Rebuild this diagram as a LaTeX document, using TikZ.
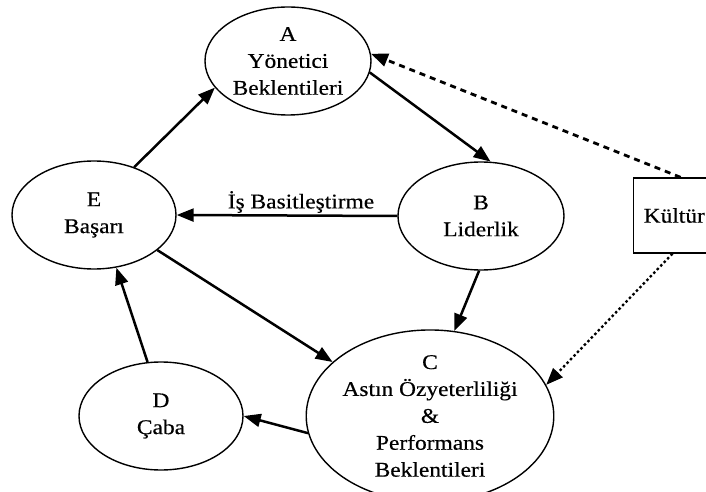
\documentclass[tikz,border=0pt]{standalone}
\usepackage{fontspec}
\setmainfont{Liberation Serif}[FakeStretch=1.12,FakeBold=0.4]
\usetikzlibrary{arrows.meta,shapes.geometric}
\tikzset{
  oval/.style={ellipse, draw, line width=1.4bp, inner sep=0pt, align=center,
    font=\fontsize{21}{27}\selectfont},
  conn/.style={line width=2.5bp, -{Triangle[length=17bp,width=13bp]}},
  dashconn/.style={line width=2.8bp, dash pattern=on 6bp off 5bp,
    -{Triangle[length=17bp,width=13bp]}},
  dotconn/.style={line width=2.3bp, dash pattern=on 2.5bp off 2.5bp,
    -{Triangle[length=17bp,width=13bp]}},
  lbl/.style={font=\fontsize{21}{27}\selectfont, inner sep=0pt},
}
\begin{document}
\begin{tikzpicture}[x=1bp,y=-1bp]
\useasboundingbox (0,0) rectangle (706,492);
\fill[white] (0,0) rectangle (706,492);
\clip (0,0) rectangle (706,492);

\node[oval, minimum width=166bp, minimum height=108bp] (A) at (288,61) {A\\Yönetici\\Beklentileri};
\node[oval, minimum width=166bp, minimum height=108bp] (B) at (481,216) {B\\Liderlik};
\node[oval, minimum width=164bp, minimum height=108bp] (E) at (94,215) {E\\Başarı};
\node[oval, minimum width=164bp, minimum height=108bp] (D) at (161,416) {D\\Çaba};
\node[oval, minimum width=206bp, minimum height=146bp] (C) at (430,416) {C\\Astın Özyeterliliği\\\&\\Performans\\Beklentileri};

\node[draw, line width=1.4bp, anchor=west, minimum height=75bp, inner xsep=10bp,
  text width=90bp, align=left, font=\fontsize{21}{27}\selectfont] (K) at (633,215.5) {Kültür};

\draw[conn] (E.50) -- (A.200);
\draw[conn] (A.-8) -- (B.80);
\draw[conn] (B.180) -- (E.0);
\node[lbl] (L) at (301,202) {İş Basitleştirme};
\draw[conn] (B.268) -- (C.74);
\draw[conn] (E.-29) -- (C.151);
\draw[conn] (C.188) -- (D.0);
\draw[conn] (D.104) -- (E.-67);
\draw[dashconn] (K.102) -- (A.5);
\draw[dotconn] (K.247) -- (C.15);
\end{tikzpicture}
\end{document}
